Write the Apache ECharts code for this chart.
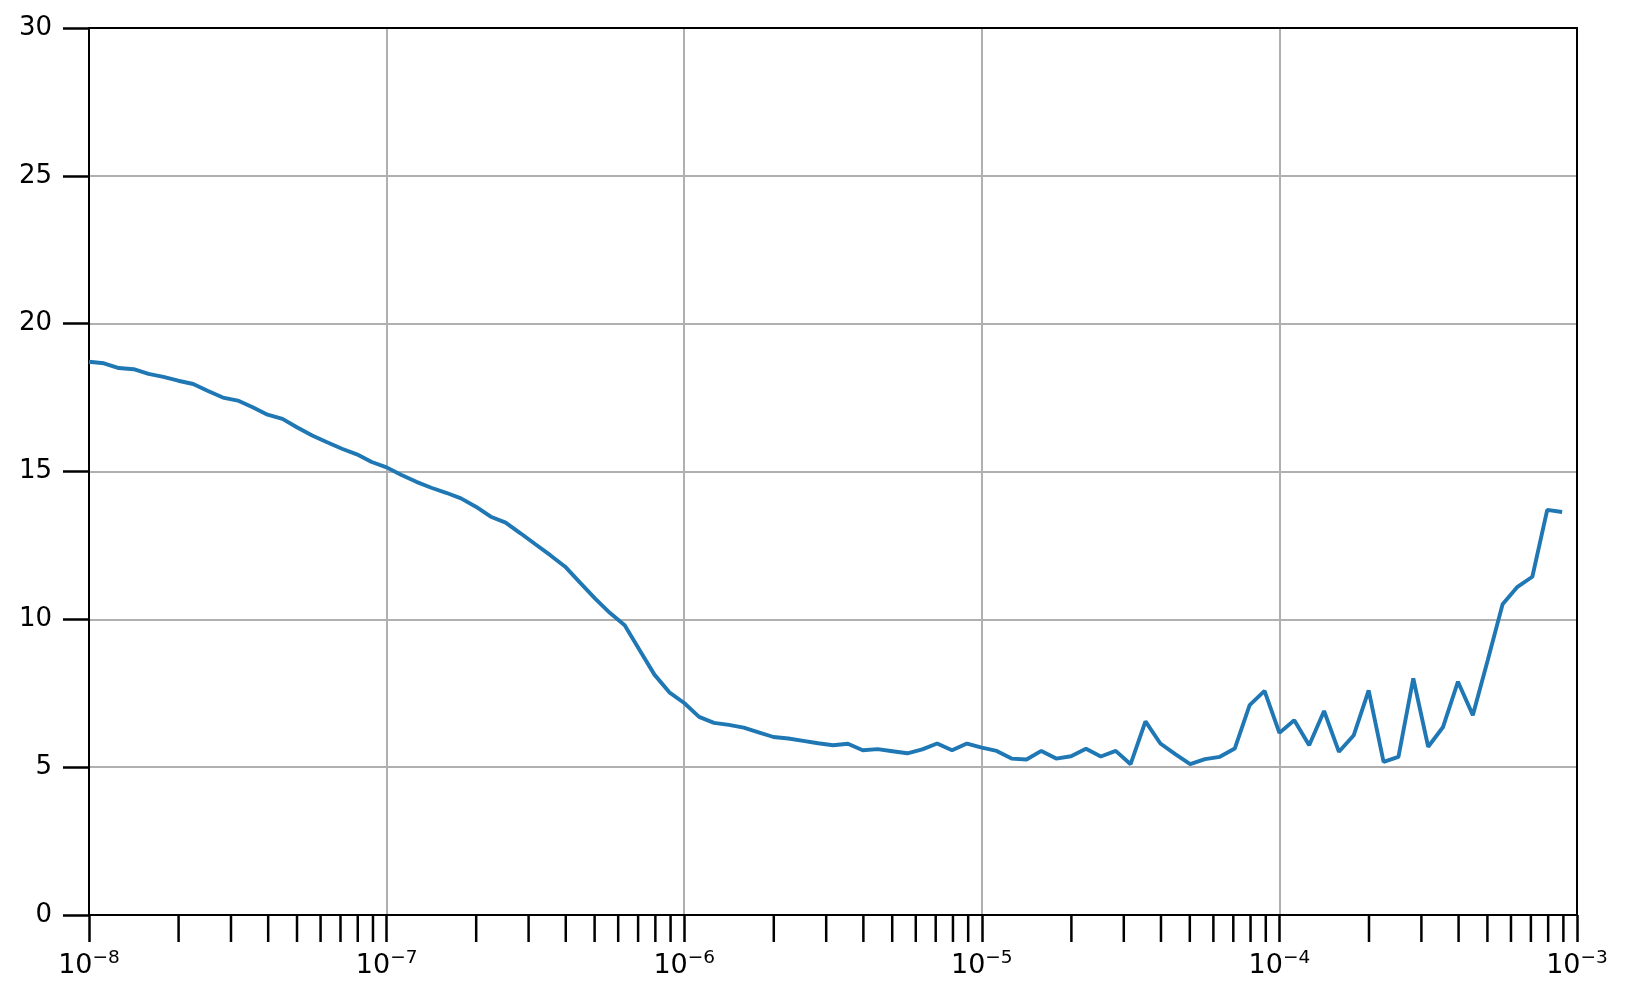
<!DOCTYPE html>
<html>
<head>
<meta charset="utf-8">
<style>
  html, body { margin: 0; padding: 0; background: #ffffff; }
  #chart { width: 1627px; height: 999px; }
</style>
<script src="https://cdn.jsdelivr.net/npm/echarts@6/dist/echarts.min.js"></script>
</head>
<body>
<div id="chart"></div>
<script>
// Learning-rate sweep: 20 steps per decade, starting at 1e-8
const lrMantissas = [1.000, 1.122, 1.259, 1.413, 1.585, 1.778, 1.995, 2.239, 2.512, 2.818,
                     3.162, 3.548, 3.981, 4.467, 5.012, 5.623, 6.310, 7.079, 7.943, 8.913];
const lrDecades = [-8, -7, -6, -5, -4];

// Loss values (100 points)
const lossValues = [
  18.71, 18.66, 18.50, 18.46, 18.30, 18.20, 18.07, 17.96, 17.72, 17.50,
  17.40, 17.17, 16.92, 16.78, 16.49, 16.22, 15.99, 15.77, 15.58, 15.32,
  15.14, 14.88, 14.65, 14.45, 14.28, 14.09, 13.81, 13.47, 13.27, 12.91,
  12.54, 12.17, 11.78, 11.24, 10.71, 10.22, 9.80, 8.96, 8.13, 7.53,
  7.17, 6.70, 6.50, 6.43, 6.34, 6.18, 6.02, 5.97, 5.89, 5.81,
  5.74, 5.79, 5.57, 5.61, 5.54, 5.47, 5.60, 5.80, 5.57, 5.80,
  5.66, 5.55, 5.29, 5.26, 5.55, 5.29, 5.37, 5.62, 5.36, 5.55,
  5.10, 6.55, 5.80, 5.44, 5.10, 5.27, 5.35, 5.63, 7.10, 7.58,
  6.16, 6.59, 5.74, 6.90, 5.52, 6.08, 7.60, 5.18, 5.35, 8.00,
  5.69, 6.36, 7.89, 6.76, 8.62, 10.51, 11.10, 11.44, 13.70, 13.63
];

// Axis ticks
const xMajorExponents = [-8, -7, -6, -5, -4, -3];
const xMinorMultipliers = [2, 3, 4, 5, 6, 7, 8, 9];
const yTicks = [0, 5, 10, 15, 20, 25, 30];

// Build the table the library needs
const lrValues = [];
lrDecades.forEach(d => lrMantissas.forEach(m => lrValues.push(Number((m * Math.pow(10, d)).toPrecision(4)))));
const lineData = lossValues.map((v, i) => [lrValues[i], v]);

const minorTickData = [];
lrDecades.forEach(d => xMinorMultipliers.forEach(k => minorTickData.push([Number((k * Math.pow(10, d)).toPrecision(3)), 0])));

const FONT = 'DejaVu Sans';
const xMin = Math.pow(10, xMajorExponents[0]);
const xMax = Math.pow(10, xMajorExponents[xMajorExponents.length - 1]);

const chart = echarts.init(document.getElementById('chart'), null, { renderer: 'canvas' });

chart.setOption({
  animation: false,
  backgroundColor: '#ffffff',
  grid: {
    left: 89, top: 28, right: 50, bottom: 84,
    containLabel: false,
    outerBoundsMode: 'none'
  },
  xAxis: [
    {
      type: 'log',
      logBase: 10,
      min: xMin,
      max: xMax,
      splitNumber: 5,
      position: 'bottom',
      axisLine: { show: true, onZero: false, lineStyle: { color: '#000000', width: 2 } },
      axisTick: { show: true, inside: false, length: 27, lineStyle: { color: '#000000', width: 2.5 } },
      minorTick: { show: false },
      axisLabel: {
        show: true,
        margin: 34,
        formatter: function (value) {
          const e = Math.round(Math.log10(value));
          return '{b|10}{s|' + (e < 0 ? '\u2212' : '') + Math.abs(e) + '}';
        },
        rich: {
          b: { fontFamily: FONT, fontSize: 27, color: '#000000', lineHeight: 30, verticalAlign: 'bottom' },
          s: { fontFamily: FONT, fontSize: 18.5, color: '#000000', lineHeight: 19, verticalAlign: 'top' }
        }
      },
      splitLine: { show: true, lineStyle: { color: '#b0b0b0', width: 2 } }
    },
    {
      type: 'log',
      logBase: 10,
      min: xMin,
      max: xMax,
      position: 'top',
      axisLine: { show: true, onZero: false, lineStyle: { color: '#000000', width: 2 } },
      axisTick: { show: false },
      axisLabel: { show: false },
      splitLine: { show: false }
    }
  ],
  yAxis: [
    {
      type: 'value',
      min: yTicks[0],
      max: yTicks[yTicks.length - 1],
      interval: 5,
      position: 'left',
      axisLine: { show: true, onZero: false, lineStyle: { color: '#000000', width: 2 } },
      axisTick: { show: true, inside: false, length: 26, lineStyle: { color: '#000000', width: 2.5 } },
      axisLabel: { show: true, margin: 37, fontFamily: FONT, fontSize: 26, color: '#000000', padding: [4, 0, 0, 0] },
      splitLine: { show: true, lineStyle: { color: '#b0b0b0', width: 2 } }
    },
    {
      type: 'value',
      min: yTicks[0],
      max: yTicks[yTicks.length - 1],
      interval: 5,
      position: 'right',
      axisLine: { show: true, onZero: false, lineStyle: { color: '#000000', width: 2 } },
      axisTick: { show: false },
      axisLabel: { show: false },
      splitLine: { show: false }
    }
  ],
  series: [
    {
      type: 'line',
      xAxisIndex: 0,
      yAxisIndex: 0,
      data: lineData,
      showSymbol: false,
      smooth: false,
      lineStyle: { color: '#1f77b4', width: 3.9 },
      itemStyle: { color: '#1f77b4' },
      silent: true,
      z: 3
    },
    {
      type: 'custom',
      xAxisIndex: 0,
      yAxisIndex: 0,
      data: minorTickData,
      clip: false,
      silent: true,
      z: 4,
      renderItem: function (params, api) {
        const p = api.coord([api.value(0), api.value(1)]);
        return {
          type: 'line',
          shape: { x1: p[0], y1: p[1], x2: p[0], y2: p[1] + 27 },
          style: { stroke: '#000000', lineWidth: 2.5 }
        };
      }
    }
  ]
});
</script>
</body>
</html>
